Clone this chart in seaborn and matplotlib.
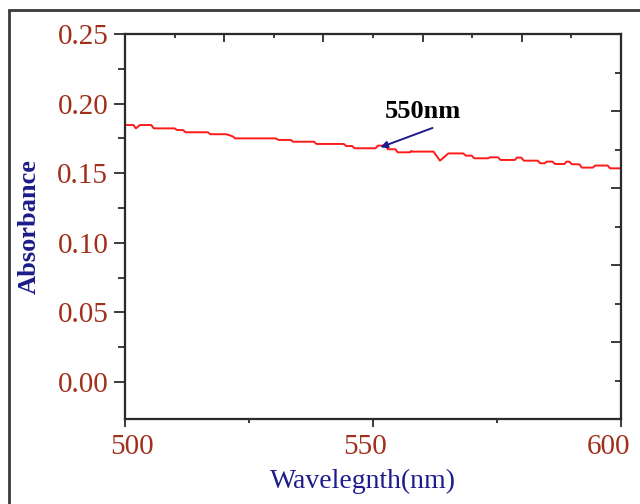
"""UV-Vis absorbance spectrum, 500-600 nm."""

import matplotlib.pyplot as plt
import seaborn as sns
from matplotlib.patches import Rectangle
from matplotlib.ticker import MultipleLocator, FixedLocator, NullFormatter

sns.set_theme(style="white")
plt.rcParams["font.family"] = ["Liberation Serif", "DejaVu Serif"]

# values
wavelength = [
    500.0, 501.7, 502.2, 503.0, 505.3, 505.8, 510.0, 510.5, 511.7, 512.2,
    516.7, 517.2, 520.4, 521.7, 522.2, 530.4, 530.9, 533.4, 533.9, 538.1,
    538.6, 544.1, 544.6, 545.8, 546.3, 550.5, 551.0, 552.5, 553.0, 554.5,
    555.0, 557.5, 557.7, 557.9, 562.2, 563.5, 565.2, 568.2, 568.7, 569.9,
    570.4, 573.2, 573.6, 575.2, 575.7, 578.6, 579.0, 579.9, 580.4, 583.2,
    583.7, 584.6, 585.0, 586.2, 586.7, 588.6, 589.0, 589.6, 590.1, 591.6,
    592.1, 594.3, 594.8, 597.3, 597.8, 600.0,
]
absorbance = [
    0.1846, 0.1846, 0.1822, 0.1846, 0.1846, 0.1822, 0.1822, 0.1810, 0.1810, 0.1794,
    0.1794, 0.1780, 0.1780, 0.1765, 0.1750, 0.1750, 0.1739, 0.1739, 0.1726, 0.1726,
    0.1710, 0.1710, 0.1695, 0.1695, 0.1679, 0.1679, 0.1698, 0.1698, 0.1672, 0.1672,
    0.1650, 0.1650, 0.1660, 0.1655, 0.1655, 0.1590, 0.1642, 0.1642, 0.1626, 0.1626,
    0.1607, 0.1607, 0.1614, 0.1614, 0.1595, 0.1595, 0.1612, 0.1612, 0.1590, 0.1590,
    0.1571, 0.1571, 0.1583, 0.1583, 0.1566, 0.1566, 0.1583, 0.1583, 0.1564, 0.1564,
    0.1540, 0.1540, 0.1555, 0.1555, 0.1535, 0.1535,
]
x_ticks = [500, 550, 600]
x_tick_shift = [7, -8, -13]  # px, labels in the original sit a bit off their ticks
peak_label = "550nm"
peak_point = (551.5, 0.1686)
peak_text = (560.0, 0.1895)
arrow_tail = (562.0, 0.1825)

label_red = "#a0301c"
navy = "#1c1c8a"
spine_col = "#2b2b2b"

fig = plt.figure(figsize=(6.4, 5.04), dpi=100)
ax = fig.add_axes([125 / 640, 1 - 419 / 504, 496 / 640, 385 / 504])

sns.lineplot(x=wavelength, y=absorbance, ax=ax, color="#ff1a1a", linewidth=1.4)

ax.set_xlim(500, 600)
ax.set_ylim(-0.0266, 0.25)
ax.xaxis.set_major_locator(FixedLocator(x_ticks))
ax.xaxis.set_minor_locator(MultipleLocator(25))
ax.xaxis.set_major_formatter(NullFormatter())
ax.yaxis.set_major_locator(MultipleLocator(0.05))
ax.yaxis.set_minor_locator(FixedLocator([0.025, 0.075, 0.125, 0.175, 0.225]))
ax.yaxis.set_major_formatter(plt.FuncFormatter(lambda v, _: f"{v:.2f}"))

ax.tick_params(axis="both", which="both", direction="out", colors=spine_col,
               labelcolor=label_red, labelsize=21, width=1.3)
ax.tick_params(axis="y", which="major", length=8, pad=4)
ax.tick_params(axis="y", which="minor", length=5)
ax.tick_params(axis="x", which="major", length=6, pad=6)
ax.tick_params(axis="x", which="minor", length=3)
ax.tick_params(left=True, bottom=True, which="both")

for v, dx in zip(x_ticks, x_tick_shift):
    ax.annotate(f"{v}", xy=(v, 0), xycoords=ax.get_xaxis_transform(),
                xytext=(dx * 0.72, -11), textcoords="offset points",
                ha="center", va="top", fontsize=21, color=label_red,
                annotation_clip=False)

for s in ax.spines.values():
    s.set_color(spine_col)
    s.set_linewidth(1.5)

ax.set_xlabel("Wavelegnth(nm)", color=navy, fontsize=20)
ax.xaxis.set_label_coords((363 - 125) / 496, -0.13)
ax.set_ylabel("Absorbance", color=navy, fontsize=19, fontweight="bold", labelpad=12)

# inward ticks on top and right
top = ax.twiny()
top.set_xlim(0, 1)
top.xaxis.set_major_locator(FixedLocator([0.2, 0.4, 0.6, 0.8]))
top.xaxis.set_minor_locator(FixedLocator([0.1, 0.3, 0.5, 0.7, 0.9]))
top.xaxis.set_major_formatter(NullFormatter())
top.tick_params(axis="x", which="major", direction="in", length=6, width=1.3, colors=spine_col)
top.tick_params(axis="x", which="minor", direction="in", length=3, width=1.3, colors=spine_col)

right = ax.twinx()
right.set_ylim(0, 1)
right.yaxis.set_major_locator(FixedLocator([0.2, 0.4, 0.6, 0.8]))
right.yaxis.set_minor_locator(FixedLocator([0.1, 0.3, 0.5, 0.7, 0.9]))
right.yaxis.set_major_formatter(NullFormatter())
right.tick_params(axis="y", which="major", direction="in", length=7, width=1.3, colors=spine_col)
right.tick_params(axis="y", which="minor", direction="in", length=4, width=1.3, colors=spine_col)
for extra in (top, right):
    for s in extra.spines.values():
        s.set_color(spine_col)
        s.set_linewidth(1.5)
    extra.grid(False)

ax.text(*peak_text, peak_label, fontsize=19, fontweight="bold", color="black",
        ha="center", va="baseline")
ax.annotate("", xy=peak_point, xytext=arrow_tail,
            arrowprops=dict(arrowstyle="-|>", color=navy, lw=1.4,
                            mutation_scale=10, shrinkA=0, shrinkB=0))

fig.add_artist(Rectangle((9 / 640, -0.2), 1.3, 1 - 10 / 504 + 0.2,
                         transform=fig.transFigure, fill=False,
                         edgecolor="#3a3a3a", linewidth=2))

fig.savefig("out.png", dpi=100)
